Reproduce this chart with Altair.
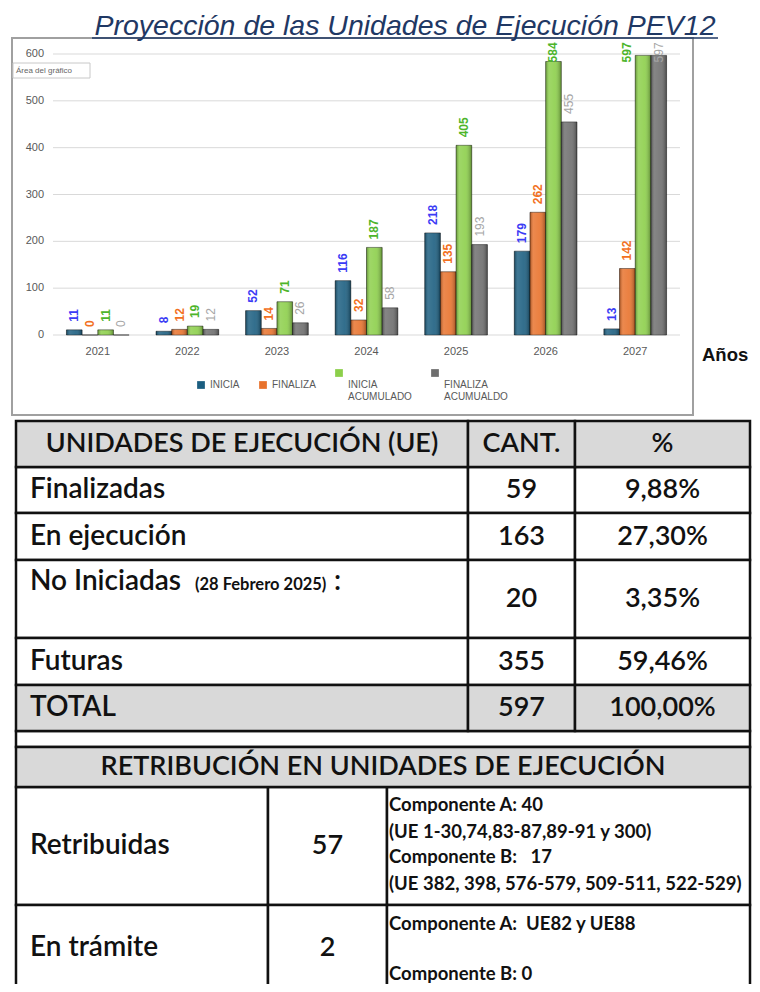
import altair as alt
import pandas as pd

# ---------------- data ----------------
title = "Proyección de las Unidades de Ejecución PEV12"
years = ["2021", "2022", "2023", "2024", "2025", "2026", "2027"]
series = ["INICIA", "FINALIZA", "INICIA ACUMULADO", "FINALIZA ACUMUALDO"]
inicia = [11, 8, 52, 116, 218, 179, 13]
finaliza = [0, 12, 14, 32, 135, 262, 142]
inicia_acum = [11, 19, 71, 187, 405, 584, 597]
finaliza_acum = [0, 12, 26, 58, 193, 455, 597]
y_ticks = [0, 100, 200, 300, 400, 500, 600]
x_title = "Años"
tooltip_text = "Área del gráfico"

ue_header = ["UNIDADES DE EJECUCIÓN (UE)", "CANT.", "%"]
ue_labels = ["Finalizadas", "En ejecución", "No Iniciadas", "Futuras", "TOTAL"]
ue_cant = ["59", "163", "20", "355", "597"]
ue_pct = ["9,88%", "27,30%", "3,35%", "59,46%", "100,00%"]
ue_note = "(28 Febrero 2025)"
ret_header = "RETRIBUCIÓN EN UNIDADES DE EJECUCIÓN"
ret_labels = ["Retribuidas", "En trámite"]
ret_cant = ["57", "2"]
ret_detail = [
    ["Componente A: 40", "(UE 1-30,74,83-87,89-91 y 300)",
     "Componente B:\u00a0\u00a0 17", "(UE 382, 398, 576-579, 509-511, 522-529)"],
    ["Componente A:\u00a0 UE82 y UE88", "Componente B: 0"],
]

# ---------------- layout / style ----------------
W, H = 744, 976
PLOT_X = [45, 672]
PLOT_Y = [327, 46]
BOX = [4, 685, 30, 407]
T1_COLS = [8, 460, 567, 742]
T1_ROWS = [413, 459, 505, 552, 630, 677, 723]
GAP_ROW = [723, 739]
T2_COLS = [8, 260, 379, 742]
T2_ROWS = [739, 779, 897, 992]
RET_ROW_Y = [838, 940]
LABEL_X = 22
NO_INIC = dict(base=582, note_x=187, colon_x=326)
DETAIL_X = 381
DETAIL_Y = [[797, 824, 849, 876], [916, 966]]
HEAD_FS = 27
ROW_FS = 28
NUM_FS = 27
NOTE_FS = 16.5
DETAIL_FS = 18.5
TFONT = "Lato"
GRAY = "#D9D9D9"
INK = "#111111"
bar_colors = ["#1B5E80", "#E8722C", "#8CCF4A", "#6E6E6E"]
label_colors = ["#3B3BF5", "#F2711F", "#4DB52B", "#A6A6A6"]

one = pd.DataFrame({"k": [0]})

# ---------------- chart box + title ----------------
box = alt.Chart(one).mark_rect(fill="white", stroke="#A0A0A0", strokeWidth=2).encode(
    x=alt.value(BOX[0]), x2=alt.value(BOX[1]), y=alt.value(BOX[2]), y2=alt.value(BOX[3]))

title_txt = alt.Chart(pd.DataFrame({"t": [title]})).mark_text(
    font="Liberation Sans", fontStyle="italic", fontWeight="normal", fontSize=28.5, color="#1F3864",
    align="center", baseline="alphabetic").encode(
    x=alt.value(397), y=alt.value(26.8), text="t:N")
title_line = alt.Chart(one).mark_rule(color="#1F3864", strokeWidth=1.5).encode(
    x=alt.value(84), x2=alt.value(710), y=alt.value(30))

tip_box = alt.Chart(one).mark_rect(fill="white", stroke="#C8C8C8", strokeWidth=1).encode(
    x=alt.value(5), x2=alt.value(82), y=alt.value(55), y2=alt.value(70))
tip_txt = alt.Chart(pd.DataFrame({"t": [tooltip_text]})).mark_text(
    font="Liberation Sans", fontSize=8, color="#666666", align="left", baseline="middle").encode(
    x=alt.value(8), y=alt.value(62.5), text="t:N")

# ---------------- bar chart ----------------
rows = []
for s, vals in zip(series, [inicia, finaliza, inicia_acum, finaliza_acum]):
    for yr, v in zip(years, vals):
        rows.append({"year": yr, "series": s, "value": v})
bars_df = pd.DataFrame(rows)

xs = alt.Scale(domain=years, range=PLOT_X, paddingInner=0.3, paddingOuter=0.15)
ys = alt.Scale(domain=[0, 600], range=PLOT_Y, nice=False, zero=True)
xo = alt.Scale(domain=series, paddingInner=0, paddingOuter=0)

grid = alt.Chart(pd.DataFrame({"v": y_ticks})).mark_rule(color="#D9D9D9", strokeWidth=1).encode(
    y=alt.Y("v:Q", scale=ys, axis=None), x=alt.value(PLOT_X[0]), x2=alt.value(PLOT_X[1]))
ylab = alt.Chart(pd.DataFrame({"v": y_ticks})).mark_text(
    align="right", baseline="middle", fontSize=11, color="#595959", font="Liberation Sans").encode(
    y=alt.Y("v:Q", scale=ys, axis=None), x=alt.value(36), text="v:Q")
xlab = alt.Chart(pd.DataFrame({"year": years})).mark_text(
    align="center", baseline="middle", fontSize=11, color="#595959", font="Liberation Sans").encode(
    x=alt.X("year:N", scale=xs, axis=None), y=alt.value(344), text="year:N")

legend_expr = ("indexof(datum.label, ' ') > 0 ? "
               "['', split(datum.label, ' ')[0], split(datum.label, ' ')[1]] : datum.label")

bar_pos = dict(
    x=alt.X("year:N", scale=xs, axis=None),
    xOffset=alt.XOffset("series:N", scale=xo, sort=series),
    y=alt.Y("value:Q", scale=ys, axis=None),
)
bars = alt.Chart(bars_df).mark_bar(stroke="#000000", strokeOpacity=0.45, strokeWidth=1).encode(
    color=alt.Color("series:N", sort=series,
                    scale=alt.Scale(domain=series, range=bar_colors),
                    legend=alt.Legend(title=None, orient="none", legendX=188, legendY=360,
                                      direction="horizontal", symbolType="square",
                                      symbolSize=60, symbolStrokeWidth=0,
                                      labelFontSize=10, labelColor="#595959",
                                      labelFont="Liberation Sans", columnPadding=18,
                                      labelExpr=legend_expr)),
    **bar_pos,
)
bevel = alt.LinearGradient(
    gradient="linear", x1=0, x2=1, y1=0, y2=0,
    stops=[alt.GradientStop(color="rgba(0,0,0,0.30)", offset=0),
           alt.GradientStop(color="rgba(255,255,255,0.16)", offset=0.22),
           alt.GradientStop(color="rgba(255,255,255,0.10)", offset=0.6),
           alt.GradientStop(color="rgba(0,0,0,0.32)", offset=1)])
bars_shade = alt.Chart(bars_df).mark_bar(fill=bevel, strokeWidth=0).encode(**bar_pos)

lab_base = alt.Chart(bars_df).transform_calculate(
    ly="min(datum.value, 565)",
    lslot="datum.value > 590 && datum.series == 'INICIA ACUMULADO' ? 'FINALIZA' : datum.series",
)
lab_enc = dict(
    x=alt.X("year:N", scale=xs, axis=None),
    xOffset=alt.XOffset("lslot:N", scale=xo),
    y=alt.Y("ly:Q", scale=ys, axis=None),
    fill=alt.Fill("series:N", scale=alt.Scale(domain=series, range=label_colors), legend=None),
    text="value:Q",
)
labels_bold = lab_base.transform_filter("datum.series != 'FINALIZA ACUMUALDO'").mark_text(
    angle=270, align="left", baseline="middle", dx=8, font="Liberation Sans",
    fontWeight="bold", fontSize=12).encode(**lab_enc)
labels_norm = lab_base.transform_filter("datum.series == 'FINALIZA ACUMUALDO'").mark_text(
    angle=270, align="left", baseline="middle", dx=8, font="Liberation Sans",
    fontSize=12).encode(**lab_enc)

bar_group = alt.layer(grid, ylab, xlab, bars, bars_shade, labels_bold, labels_norm)

anos = alt.Chart(pd.DataFrame({"t": [x_title]})).mark_text(
    font="Liberation Sans", fontWeight="bold", fontSize=18.5, color="#111111",
    align="left", baseline="middle").encode(x=alt.value(694), y=alt.value(347), text="t:N")

# ---------------- tables ----------------
cells = []
for i in range(len(T1_ROWS) - 1):
    for j in range(3):
        cells.append({"x": T1_COLS[j], "x2": T1_COLS[j + 1], "y": T1_ROWS[i], "y2": T1_ROWS[i + 1],
                      "shade": i == 0 or i == len(T1_ROWS) - 2})
cells.append({"x": T1_COLS[0], "x2": T1_COLS[-1], "y": GAP_ROW[0], "y2": GAP_ROW[1], "shade": False})
cells.append({"x": T2_COLS[0], "x2": T2_COLS[-1], "y": T2_ROWS[0], "y2": T2_ROWS[1], "shade": True})
for i in range(1, len(T2_ROWS) - 1):
    for j in range(3):
        cells.append({"x": T2_COLS[j], "x2": T2_COLS[j + 1], "y": T2_ROWS[i], "y2": T2_ROWS[i + 1],
                      "shade": False})
cells_df = pd.DataFrame(cells)
cell_enc = dict(x=alt.X("x:Q", scale=None, axis=None), x2="x2:Q",
                y=alt.Y("y:Q", scale=None, axis=None), y2="y2:Q")
cells_white = alt.Chart(cells_df).transform_filter("!datum.shade").mark_rect(
    fill="white", stroke=INK, strokeWidth=2.5).encode(**cell_enc)
cells_gray = alt.Chart(cells_df).transform_filter("datum.shade").mark_rect(
    fill=GRAY, stroke=INK, strokeWidth=2.5).encode(**cell_enc)


def mid(a, i):
    return (a[i] + a[i + 1]) / 2


center_txt = []
for j, t in enumerate(ue_header):
    center_txt.append({"t": t, "x": mid(T1_COLS, j), "y": mid(T1_ROWS, 0), "fs": HEAD_FS})
for i in range(len(ue_labels)):
    center_txt.append({"t": ue_cant[i], "x": mid(T1_COLS, 1), "y": mid(T1_ROWS, i + 1), "fs": NUM_FS})
    center_txt.append({"t": ue_pct[i], "x": mid(T1_COLS, 2), "y": mid(T1_ROWS, i + 1), "fs": NUM_FS})
center_txt.append({"t": ret_header, "x": (T2_COLS[0] + T2_COLS[-1]) / 2, "y": mid(T2_ROWS, 0),
                   "fs": HEAD_FS})
for i in range(len(ret_labels)):
    center_txt.append({"t": ret_cant[i], "x": mid(T2_COLS, 1), "y": RET_ROW_Y[i], "fs": NUM_FS})

left_txt = []
for i, t in enumerate(ue_labels):
    if t == "No Iniciadas":
        continue
    left_txt.append({"t": t, "x": LABEL_X, "y": mid(T1_ROWS, i + 1)})
for i, t in enumerate(ret_labels):
    left_txt.append({"t": t, "x": LABEL_X, "y": RET_ROW_Y[i]})

base_txt = [
    {"t": "No Iniciadas", "x": LABEL_X, "y": NO_INIC["base"]},
    {"t": ":", "x": NO_INIC["colon_x"], "y": NO_INIC["base"]},
]
note_txt = [{"t": ue_note, "x": NO_INIC["note_x"], "y": NO_INIC["base"]}]

detail_txt = []
for lines, ys_ in zip(ret_detail, DETAIL_Y):
    for t, yy in zip(lines, ys_):
        detail_txt.append({"t": t, "x": DETAIL_X, "y": yy})

txt_enc = dict(x=alt.X("x:Q", scale=None, axis=None), y=alt.Y("y:Q", scale=None, axis=None), text="t:N")

t_center = alt.Chart(pd.DataFrame(center_txt)).mark_text(
    font=TFONT, fontWeight=600, color=INK, align="center",
    baseline="middle").encode(size=alt.Size("fs:Q", scale=None, legend=None), **txt_enc)
t_left = alt.Chart(pd.DataFrame(left_txt)).mark_text(
    font=TFONT, fontWeight=600, fontSize=ROW_FS, color=INK, align="left",
    baseline="middle").encode(**txt_enc)
t_base = alt.Chart(pd.DataFrame(base_txt)).mark_text(
    font=TFONT, fontWeight=600, fontSize=ROW_FS, color=INK, align="left",
    baseline="alphabetic").encode(**txt_enc)
t_note = alt.Chart(pd.DataFrame(note_txt)).mark_text(
    font=TFONT, fontWeight="bold", fontSize=NOTE_FS, color=INK, align="left",
    baseline="alphabetic").encode(**txt_enc)
t_detail = alt.Chart(pd.DataFrame(detail_txt)).mark_text(
    font=TFONT, fontWeight="bold", fontSize=DETAIL_FS, color=INK, align="left",
    baseline="middle").encode(**txt_enc)

chart = alt.layer(
    box, title_txt, title_line, bar_group, tip_box, tip_txt, anos,
    cells_white, cells_gray, t_center, t_left, t_base, t_note, t_detail,
).resolve_scale(
    x="independent", y="independent", fill="independent", size="independent"
).properties(
    width=W, height=H, padding=0, autosize=alt.AutoSizeParams(type="none")
).configure_view(strokeWidth=0)

chart.save("out.html", embed_options={"renderer": "svg", "actions": False})
